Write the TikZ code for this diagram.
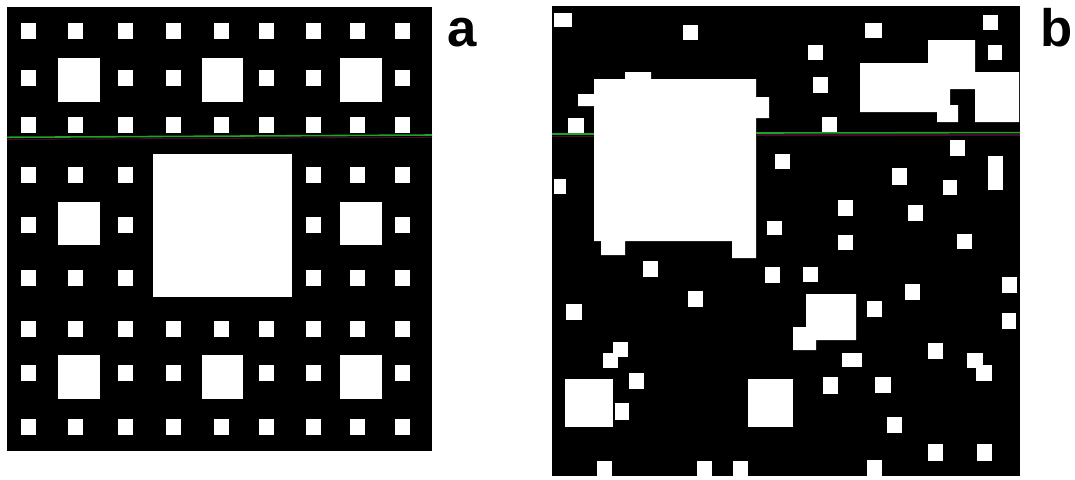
\documentclass[tikz,border=0pt]{standalone}
\usepackage{fontspec}
\setmainfont{Liberation Sans}
\definecolor{glinecol}{RGB}{30,165,40}
\definecolor{mlinecol}{RGB}{70,10,45}
\tikzset{
  panelbg/.style={fill=black},
  hole/.style={fill=white},
  scanline/.style={draw=glinecol, line width=0.9pt},
  shadowline/.style={draw=mlinecol, line width=0.6pt},
  paneltag/.style={font=\bfseries\fontsize{30}{30}\selectfont, inner sep=0pt, anchor=base west}
}
\begin{document}
\begin{tikzpicture}[x=0.02cm,y=-0.02cm]
\useasboundingbox[fill=white] (0,0) rectangle (1075,480);
% ---------------- panel a : Sierpinski carpet ----------------
\fill[panelbg] (7,7) rectangle (432,451);
% small holes (one per 3x3 block, skipping blocks covered by bigger holes)
\foreach \i/\xs in {0/20.7,1/68.3,2/118.3,3/165.7,4/214,5/259.3,6/306,7/350,8/395}{
  \foreach \j/\ys in {0/23,1/70,2/117,3/167,4/217,5/270,6/321,7/365,8/419}{
    \pgfmathtruncatemacro\hsk{((mod(\i,3)==1)&&(mod(\j,3)==1)) || ((int(\i/3)==1)&&(int(\j/3)==1))}
    \ifnum\hsk=0
      \fill[hole] (\xs,\ys) rectangle ++(14.8,15.5);
    \fi
  }
}
% medium holes
\foreach \I/\xa/\xb in {0/57.7/100,1/201.7/243.3,2/340/382}{
  \foreach \J/\ya/\yb in {0/58/102,1/202/245,2/355/399}{
    \pgfmathtruncatemacro\hsk{(\I==1)&&(\J==1)}
    \ifnum\hsk=0
      \fill[hole] (\xa,\ya) rectangle (\xb,\yb);
    \fi
  }
}
% large hole
\fill[hole] (153,154) rectangle (292,297);
\draw[shadowline] (7,139.5) -- (432,137.2);
\draw[scanline] (7,137.3) -- (432,135);
% ---------------- panel b : random carpet ----------------
\fill[panelbg] (552,6) rectangle (1020,476);
\foreach \xa/\ya/\xb/\yb in {
 554/13/572/27, 683/25/698/40, 568/118/584/133, 554/179/566/194,
 775/154/790/169, 767/221/782/235, 865/23/882/38, 983/15/998/30,
 808/45/823/60, 988/45/1002/60, 813/77/828/93, 822/117/837/132,
 950/140/965/156, 988/156/1003/190, 892/168/907/185, 943/180/957/195,
 838/200/853/216, 908/205/923/221, 838/235/853/250, 957/234/972/249,
 803/267/818/282, 1002/277/1017/293, 905/284/920/300, 867/301/882/317,
 1002/313/1016/329, 928/343/943/359, 842/353/862/367, 967/353/983/368,
 976/365/992/381, 823/377/838/394, 875/377/891/393, 748/379/793/427,
 887/417/902/433, 928/444/943/461, 977/444/992/461, 867/460/882/476,
 643/261/658/277, 765/267/780/283, 688/291/703/307, 566/304/582/320,
 613/342/628/357, 603/353/618/368, 629/373/644/389, 565/379/613/427,
 615/403/629/420, 597/461/612/476, 697/461/712/476, 733/461/748/476}
 { \fill[hole] (\xa,\ya) rectangle (\xb,\yb); }
% large irregular holes
\fill[hole] (594,79) -- (625,79) -- (625,72) -- (651,72) -- (651,79) -- (756,79)
  -- (756,97) -- (769,97) -- (769,118) -- (756,118) -- (756,258) -- (732,258)
  -- (732,241) -- (625,241) -- (625,255) -- (601,255) -- (601,241) -- (594,241)
  -- (594,106) -- (578,106) -- (578,94) -- (594,94) -- cycle;
\fill[hole] (860,63) -- (928,63) -- (928,40) -- (975,40) -- (975,72) -- (1019,72)
  -- (1019,122) -- (975,122) -- (975,89) -- (950,89) -- (950,105) -- (958,105)
  -- (958,122) -- (937,122) -- (937,112) -- (860,112) -- cycle;
\fill[hole] (806,294) -- (856,294) -- (856,340) -- (816,340) -- (816,350)
  -- (793,350) -- (793,327) -- (806,327) -- cycle;
\draw[shadowline] (552,136.3) -- (594,136.3);
\draw[shadowline] (756,135) -- (1020,135);
\draw[scanline] (552,134.2) -- (594,134.2);
\draw[scanline] (756,133) -- (1020,132.6);
% ---------------- labels ----------------
\node[paneltag] (la) at (447,46) {a};
\node[paneltag] (lb) at (1040,46) {b};
\end{tikzpicture}
\end{document}
